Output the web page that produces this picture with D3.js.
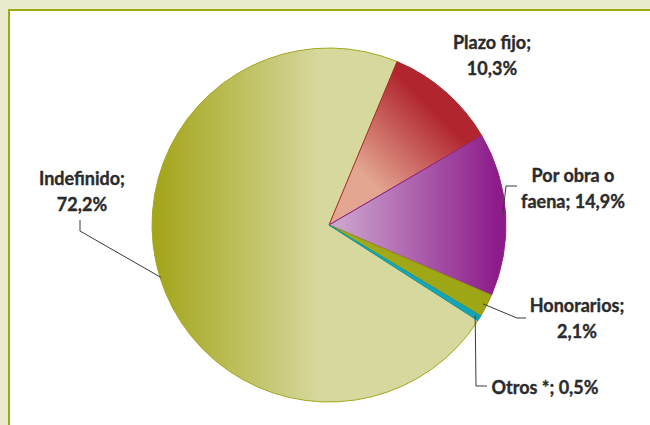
<!DOCTYPE html>
<html>
<head>
<meta charset="utf-8">
<script src="https://cdn.jsdelivr.net/npm/d3@7/dist/d3.min.js"></script>
<style>
  html, body { margin: 0; padding: 0; background: #e9ebcc; }
  svg { display: block; }
</style>
</head>
<body>
<svg id="chart" width="650" height="425"></svg>
<script>
// ---- data ----
const categories = ["Indefinido", "Plazo fijo", "Por obra o faena", "Honorarios", "Otros *"];
const values = [72.2, 10.3, 14.9, 2.1, 0.5];
const labelLines = [
  ["Indefinido;", "72,2%"],
  ["Plazo fijo;", "10,3%"],
  ["Por obra o", "faena; 14,9%"],
  ["Honorarios;", "2,1%"],
  ["Otros *; 0,5%"]
];

// ---- styling / layout ----
const W = 650, H = 425;
const cx = 329, cy = 225, R = 177;
const startDeg = 122.7;
const gradStops = [
  { id: "gInd",  light: "#d6d89d", dark: "#a2a418", stroke: "#a3a81c" },
  { id: "gPla",  light: "#e3a692", dark: "#b1252f", stroke: "#b02a30" },
  { id: "gObr",  light: "#cba3cd", dark: "#8d1c8b", stroke: "#8e208c" },
  { id: "gHon",  light: "#a3aa1a", dark: "#9ea514", stroke: "#8f9a12" },
  { id: "gOtr",  light: "#1aaebd", dark: "#12a0b2", stroke: "#0f96a8" }
];
const labelPos = [
  { x: 82,  y: 185 },
  { x: 492, y: 49 },
  { x: 573, y: 182 },
  { x: 577, y: 312 },
  { x: 545, y: 394 }
];
const lineGap = 26;
// leader polylines: first point computed on arc edge; rest are elbow/end points
const leaderTail = [
  [[80, 231], [80, 220]],
  null,
  [[506, 186], [517, 186]],
  [[517, 318], [526, 318]],
  [[476, 386], [487, 386]]
];
const leaderR = [R - 1, null, R - 3, R - 4, R - 5];

const svg = d3.select("#chart");

// frame
svg.append("rect").attr("x", 0).attr("y", 0).attr("width", W).attr("height", H).attr("fill", "#e9ebcc");
svg.append("rect").attr("x", 9).attr("y", 10).attr("width", W + 50).attr("height", H + 50)
  .attr("fill", "#ffffff").attr("stroke", "#9aab12").attr("stroke-width", 2);

// gradients
const defs = svg.append("defs");
function lin(id, x1, y1, x2, y2, stops) {
  const g = defs.append("linearGradient").attr("id", id).attr("gradientUnits", "userSpaceOnUse")
    .attr("x1", x1).attr("y1", y1).attr("x2", x2).attr("y2", y2);
  stops.forEach(s => g.append("stop").attr("offset", s[0]).attr("stop-color", s[1]));
}
lin("gInd", cx - R, 0, cx - 10, 0, [[0, gradStops[0].dark], [1, gradStops[0].light]]);
lin("gPla", cx + 42, cy - 42, cx + 110, cy - 110, [[0, gradStops[1].light], [1, gradStops[1].dark]]);
lin("gObr", cx + 10, 0, cx + R - 10, 0, [[0, gradStops[2].light], [1, gradStops[2].dark]]);
lin("gHon", cx, 0, cx + R, 0, [[0, gradStops[3].light], [1, gradStops[3].dark]]);
lin("gOtr", cx, 0, cx + R, 0, [[0, gradStops[4].light], [1, gradStops[4].dark]]);

const data = categories.map((c, i) => ({ name: c, value: values[i], i }));
const start = startDeg * Math.PI / 180;
const pie = d3.pie().value(d => d.value).sort(null).startAngle(start).endAngle(start + 2 * Math.PI);
const arcs = pie(data);
const arc = d3.arc().innerRadius(0).outerRadius(R);

// slices drawn with d3.arc, centred in a group; gradients in absolute coords via group offset
const g = svg.append("g").attr("transform", `translate(${cx},${cy})`);
defs.selectAll("linearGradient").each(function () {
  const el = d3.select(this);
  el.attr("gradientTransform", `translate(${-cx},${-cy})`);
});
g.selectAll("path.slice").data(arcs).enter().append("path")
  .attr("class", "slice")
  .attr("d", arc)
  .attr("fill", d => `url(#${gradStops[d.data.i].id})`)
  .attr("stroke", d => gradStops[d.data.i].stroke)
  .attr("stroke-width", 1)
  .attr("stroke-linejoin", "round");

// leader lines
arcs.forEach((d, i) => {
  if (!leaderTail[i]) return;
  const mid = (d.startAngle + d.endAngle) / 2 - Math.PI / 2;
  const r = leaderR[i];
  const pts = [[cx + r * Math.cos(mid), cy + r * Math.sin(mid)]].concat(leaderTail[i]);
  svg.append("path").attr("d", d3.line()(pts))
    .attr("fill", "none").attr("stroke", "#3a3a3a").attr("stroke-width", 1);
});

// labels
labelLines.forEach((lines, i) => {
  const t = svg.append("text")
    .attr("x", labelPos[i].x).attr("y", labelPos[i].y)
    .attr("text-anchor", "middle")
    .attr("font-family", "Lato, 'Open Sans', sans-serif")
    .attr("font-weight", "bold")
    .attr("font-size", 18)
    .attr("fill", "#2b2b2b")
    .attr("stroke", "#2b2b2b")
    .attr("stroke-width", 0.35);
  lines.forEach((ln, k) => {
    t.append("tspan").attr("x", labelPos[i].x).attr("y", labelPos[i].y + k * lineGap).text(ln);
  });
});
</script>
</body>
</html>
